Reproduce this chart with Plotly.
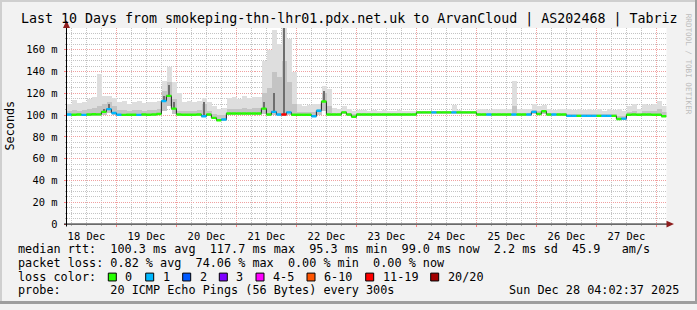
import plotly.graph_objects as go
import pandas as pd

# ---------------- data ----------------
bin_starts = pd.date_range("2025-12-18 04:00:00", periods=120, freq="2h")
t_start = "2025-12-18 04:02:37"
t_end = "2025-12-28 04:02:37"

median_ms = [
    100.5, 100.3, 100.6, 100.2, 100.5, 100.8, 100.7, 103.0, 105.5, 102.0,
    100.3, 100.2, 100.4, 100.3, 100.2, 100.5, 100.4, 100.6, 101.0, 113.0,
    117.7, 106.0, 100.5, 100.3, 100.3, 100.4, 100.5, 99.0, 100.5, 97.5,
    95.3, 96.0, 101.5, 101.5, 101.5, 101.5, 101.5, 101.5, 101.5, 106.0,
    100.5, 103.0, 100.5, 100.5, 102.5, 100.3, 100.3, 100.3, 100.3, 99.0,
    104.0, 112.5, 100.5, 100.5, 100.5, 102.5, 100.5, 98.5, 100.5, 100.5,
    100.5, 100.5, 100.5, 100.5, 100.5, 100.5, 100.5, 100.5, 100.5, 100.5,
    102.5, 102.5, 102.5, 102.5, 102.5, 102.5, 102.5, 102.5, 102.5, 102.5,
    102.5, 102.5, 100.5, 100.5, 100.5, 100.5, 100.5, 100.5, 100.5, 100.5,
    100.5, 100.5, 100.5, 103.0, 101.0, 103.5, 100.5, 100.5, 100.5, 100.5,
    99.3, 99.3, 99.3, 99.3, 99.3, 99.3, 99.3, 99.3, 99.3, 99.3,
    96.5, 96.8, 100.3, 100.5, 100.3, 100.5, 100.5, 100.3, 100.4, 99.0,
]

loss_count = [
    1, 0, 0, 1, 0, 0, 0, 0, 1, 1,
    1, 0, 0, 0, 1, 0, 0, 0, 0, 1,
    0, 0, 0, 0, 0, 0, 0, 1, 0, 0,
    0, 1, 0, 0, 0, 0, 0, 0, 0, 0,
    0, 1, 1, 12, 1, 0, 0, 0, 0, 1,
    1, 0, 0, 0, 0, 0, 0, 0, 0, 0,
    0, 0, 0, 0, 0, 0, 0, 0, 0, 0,
    0, 0, 0, 1, 0, 0, 0, 1, 0, 0,
    0, 0, 0, 0, 1, 0, 0, 0, 0, 1,
    0, 0, 1, 1, 0, 0, 0, 1, 0, 0,
    1, 1, 0, 1, 1, 1, 0, 1, 1, 0,
    0, 1, 0, 0, 0, 0, 0, 0, 0, 0,
]

smoke_lo = [
    99.0, 99.0, 99.2, 99.0, 99.3, 99.5, 99.5, 100.5, 102.0, 100.0,
    99.3, 99.2, 99.4, 99.3, 99.2, 99.5, 99.4, 99.6, 99.8, 104.0,
    108.0, 101.0, 99.5, 99.3, 99.3, 99.4, 99.5, 98.0, 99.5, 96.5,
    94.5, 95.0, 100.5, 100.5, 100.5, 100.5, 100.5, 100.5, 100.5, 101.0,
    99.5, 100.0, 99.5, 99.5, 100.0, 99.3, 99.3, 99.3, 99.3, 98.0,
    100.0, 104.0, 99.5, 99.5, 99.5, 101.5, 99.5, 97.5, 99.5, 99.5,
    99.5, 99.5, 99.5, 99.5, 99.5, 99.5, 99.5, 99.5, 99.5, 99.5,
    101.5, 101.5, 101.5, 101.5, 101.5, 101.5, 101.5, 101.5, 101.5, 101.5,
    101.5, 101.5, 99.5, 99.5, 99.5, 99.5, 99.5, 99.5, 99.5, 99.5,
    99.5, 99.5, 99.5, 101.0, 100.0, 101.5, 99.5, 99.5, 99.5, 99.5,
    98.3, 98.3, 98.3, 98.3, 98.3, 98.3, 98.3, 98.3, 98.3, 98.3,
    95.5, 95.8, 99.3, 99.5, 99.3, 99.5, 99.5, 99.3, 99.4, 98.0,
]

smoke_mid = [
    104, 105, 104, 105, 106, 107, 108, 110, 112, 108,
    105, 105, 104, 105, 105, 104, 105, 105, 106, 122,
    130, 115, 104, 104, 104, 104, 105, 110, 104, 101,
    100, 100, 106, 106, 106, 107, 106, 107, 107, 120,
    125, 140, 135, 150, 130, 110, 103, 103, 103, 103,
    106, 120, 108, 102, 102, 104, 102, 101, 102, 102,
    102, 102, 102, 102, 102, 102, 102, 102, 102, 102,
    104, 104, 104, 104, 104, 104, 104, 104, 104, 104,
    104, 104, 102, 102, 102, 102, 102, 102, 102, 108,
    102, 102, 102, 105, 104, 105, 102, 102, 102, 102,
    101, 101, 101, 101, 101, 101, 101, 101, 101, 101,
    99, 99, 103, 104, 102, 104, 104, 104, 106, 103,
]

smoke_hi = [
    110, 114, 111, 112, 115, 117, 138, 118, 118, 116,
    112, 113, 110, 112, 113, 111, 112, 112, 113, 131,
    144, 130, 120, 112, 113, 112, 113, 116, 112, 108,
    106, 107, 116, 117, 115, 118, 116, 117, 117, 150,
    160, 178, 165, 180, 170, 140, 110, 108, 109, 110,
    110, 127, 124, 107, 106, 108, 106, 104, 105, 105,
    104, 105, 104, 105, 104, 104, 105, 104, 104, 104,
    104, 104, 104, 104, 104, 104, 104, 109, 105, 104,
    104, 104, 106, 106, 105, 106, 106, 106, 106, 131,
    106, 106, 106, 110, 108, 109, 106, 105, 106, 106,
    106, 105, 106, 105, 106, 105, 106, 104, 106, 105,
    106, 104, 108, 110, 106, 110, 109, 110, 113, 108,
]

smoke_dark = [None] * 120
for _i, _v in [(7, 106), (8, 110), (19, 118), (20, 128), (21, 112), (27, 112),
               (39, 112), (41, 120), (43, 180), (51, 122)]:
    smoke_dark[_i] = _v

y_tick_vals = [0, 20, 40, 60, 80, 100, 120, 140, 160]
y_tick_text = ["0", "20 m", "40 m", "60 m", "80 m", "100 m", "120 m", "140 m", "160 m"]
day_midnights = pd.date_range("2025-12-19", "2025-12-28", freq="D")
day_noons = pd.date_range("2025-12-18 12:00", "2025-12-27 12:00", freq="D")
day_labels = [d.strftime("%d Dec") for d in day_noons]

loss_labels = ["0", "1", "2", "3", "4-5", "6-10", "11-19", "20/20"]
loss_upper = [0, 1, 2, 3, 5, 10, 19, 20]
loss_colors = ["#26ff00", "#00b8ff", "#0059ff", "#7e00ff", "#ff00ff", "#ff5500", "#ff0000", "#a10000"]

title_text = "Last 10 Days from smokeping-thn-lhr01.pdx.net.uk to ArvanCloud | AS202468 | Tabriz"
legend_line1 = "median rtt:  100.3 ms avg  117.7 ms max  95.3 ms min  99.0 ms now  2.2 ms sd  45.9   am/s"
legend_line2 = "packet loss: 0.82 % avg  74.06 % max  0.00 % min  0.00 % now"
legend_line3 = "loss color:"
legend_line4 = "probe:       20 ICMP Echo Pings (56 Bytes) every 300s"
stamp_text = "Sun Dec 28 04:02:37 2025"

# ---------------- geometry ----------------
W, H = 697, 310
PX0, PX1 = 66.5, 666.5
PY0, PY1 = 28.5, 228.5
MONO = "DejaVu Sans Mono"


def fx(x):
    return x / W


def fy(y):
    return 1 - y / H


BIN = pd.Timedelta(hours=2)
BIN_MS = 2 * 3600 * 1000
centers = bin_starts + BIN / 2


def loss_color(c):
    for up, col in zip(loss_upper, loss_colors):
        if c <= up:
            return col
    return loss_colors[-1]


fig = go.Figure()

# smoke layers
fig.add_trace(go.Bar(x=centers, base=smoke_lo, y=[h - l for h, l in zip(smoke_hi, smoke_lo)],
                     width=BIN_MS, marker=dict(color="#dedede", line=dict(width=0)),
                     hoverinfo="skip", showlegend=False))
fig.add_trace(go.Bar(x=centers, base=smoke_lo, y=[m - l for m, l in zip(smoke_mid, smoke_lo)],
                     width=BIN_MS, marker=dict(color="#c4c4c4", line=dict(width=0)),
                     hoverinfo="skip", showlegend=False))
dk_x = [c for c, d in zip(centers, smoke_dark) if d is not None]
dk_b = [m for m, d in zip(median_ms, smoke_dark) if d is not None]
dk_y = [d - m for m, d in zip(median_ms, smoke_dark) if d is not None]
fig.add_trace(go.Bar(x=dk_x, base=dk_b, y=dk_y, width=BIN_MS / 2.5,
                     marker=dict(color="#6e6e6e", line=dict(width=0)),
                     hoverinfo="skip", showlegend=False))

# median step line (dark vertical connectors)
step_x = list(bin_starts) + [bin_starts[-1] + BIN]
step_y = list(median_ms) + [median_ms[-1]]
fig.add_trace(go.Scatter(x=step_x, y=step_y, mode="lines", line=dict(color="#202020", width=1, shape="hv"),
                         hoverinfo="skip", showlegend=False))

# median coloured by loss: horizontal segments per bin
seg_colors = [loss_color(c) for c in loss_count]
for col in loss_colors:
    xs, ys = [], []
    for s, m, c in zip(bin_starts, median_ms, seg_colors):
        if c == col:
            xs += [s, s + BIN, None]
            ys += [m, m, None]
    if xs:
        fig.add_trace(go.Scatter(x=xs, y=ys, mode="lines", line=dict(color=col, width=2.4),
                                 connectgaps=False, hoverinfo="skip", showlegend=False))

# dummy trace for the day-label axis
fig.add_trace(go.Scatter(x=[t_start, t_end], y=[None, None], xaxis="x2", mode="lines", showlegend=False))

fig.update_layout(
    width=W, height=H, autosize=False,
    margin=dict(l=0, r=0, t=0, b=0),
    paper_bgcolor="#f2f2f2", plot_bgcolor="#ffffff",
    barmode="overlay", bargap=0, showlegend=False,
    font=dict(family=MONO, color="#000000", size=11),
    xaxis=dict(
        type="date", range=[t_start, t_end], domain=[fx(PX0), fx(PX1)],
        tickmode="array", tickvals=list(day_midnights), showticklabels=False,
        showgrid=True, gridcolor="#f0a0a0", griddash="1px,1px", gridwidth=1,
        ticks="outside", ticklen=2, tickcolor="#ff8080",
        minor=dict(dtick=6 * 3600 * 1000, tick0="2025-12-18 00:00", showgrid=True,
                   gridcolor="#c4c4c4", griddash="1px,1px", ticks="outside", ticklen=1, tickcolor="#b0b0b0"),
        showline=False, zeroline=False, fixedrange=True,
    ),
    xaxis2=dict(
        type="date", range=[t_start, t_end], domain=[fx(PX0), fx(PX1)],
        overlaying="x", anchor="y", side="bottom",
        tickmode="array", tickvals=list(day_noons), ticktext=day_labels,
        showgrid=False, ticks="", showline=False, zeroline=False,
        tickfont=dict(family=MONO, size=10.4, color="#000000"),
        ticklabelstandoff=5,
    ),
    yaxis=dict(
        range=[0, 180], domain=[fy(PY1), fy(PY0)],
        tickmode="array", tickvals=y_tick_vals, ticktext=y_tick_text,
        showgrid=True, gridcolor="#f0a0a0", griddash="1px,1px", gridwidth=1,
        ticks="outside", ticklen=2, tickcolor="#ff8080",
        minor=dict(dtick=5, showgrid=True, gridcolor="#c4c4c4", griddash="1px,1px",
                   ticks="outside", ticklen=1, tickcolor="#b0b0b0"),
        tickfont=dict(family=MONO, size=10.4, color="#000000"),
        ticklabelstandoff=4,
        showline=False, zeroline=False, fixedrange=True,
    ),
)

shapes = []
# outer frame shading
shapes.append(dict(type="rect", xref="paper", yref="paper", x0=0, x1=1, y0=fy(2), y1=1,
                   fillcolor="#cfcfcf", line=dict(width=0), layer="below"))
shapes.append(dict(type="rect", xref="paper", yref="paper", x0=0, x1=fx(2), y0=0, y1=1,
                   fillcolor="#cfcfcf", line=dict(width=0), layer="below"))
shapes.append(dict(type="rect", xref="paper", yref="paper", x0=0, x1=1, y0=0, y1=fy(307),
                   fillcolor="#9e9e9e", line=dict(width=0), layer="below"))
shapes.append(dict(type="rect", xref="paper", yref="paper", x0=fx(695), x1=1, y0=0, y1=1,
                   fillcolor="#9e9e9e", line=dict(width=0), layer="below"))
# axis lines
shapes.append(dict(type="line", xref="paper", yref="paper", x0=fx(64), x1=fx(668), y0=fy(228.5), y1=fy(228.5),
                   line=dict(color="#000000", width=1)))
shapes.append(dict(type="line", xref="paper", yref="paper", x0=fx(66.5), x1=fx(66.5), y0=fy(231), y1=fy(24),
                   line=dict(color="#000000", width=1)))


def tri(points):
    return "M " + " L ".join(f"{fx(x):.5f},{fy(y):.5f}" for x, y in points) + " Z"


shapes.append(dict(type="path", xref="paper", yref="paper", path=tri([(666.5, 225), (674, 228.5), (666.5, 232)]),
                   fillcolor="#8e1e1e", line=dict(width=0)))
shapes.append(dict(type="path", xref="paper", yref="paper", path=tri([(63, 28.5), (66.5, 21), (70, 28.5)]),
                   fillcolor="#8e1e1e", line=dict(width=0)))

# loss colour legend boxes
box_x = [108.3, 145.7, 182.7, 219.3, 256.0, 307.0, 365.7, 430.7]
annotations = []
for bx, lab, col in zip(box_x, loss_labels, loss_colors):
    shapes.append(dict(type="rect", xref="paper", yref="paper", x0=fx(bx), x1=fx(bx + 8),
                       y0=fy(286.5), y1=fy(278.5), fillcolor=col, line=dict(color="#000000", width=1)))
    annotations.append(dict(text=lab, x=fx(bx + 15), y=fy(282.3), xref="paper", yref="paper",
                            xanchor="left", yanchor="middle", showarrow=False,
                            font=dict(family=MONO, size=11.8, color="#000000")))


def label(text, x, y, size=11.8, xanchor="left", color="#000000", angle=0):
    annotations.append(dict(text=text, x=fx(x), y=fy(y), xref="paper", yref="paper",
                            xanchor=xanchor, yanchor="middle", showarrow=False, textangle=angle,
                            font=dict(family=MONO, size=size, color=color)))


label(title_text, 348.5, 19.5, size=13.3, xanchor="center")
label(legend_line1, 15.5, 254.3)
label(legend_line2, 15.5, 268.3)
label(legend_line3, 15.5, 282.3)
label(legend_line4, 15.5, 296.2)
label(stamp_text, 680.5, 296.2, xanchor="right")
label("Seconds", 10, 128, xanchor="center", angle=-90)
label("RRDTOOL / TOBI OETIKER", 688, 65, size=7.6, xanchor="center", color="#bdbdbd", angle=90)

fig.update_layout(shapes=shapes, annotations=annotations)
fig.write_html("out.html")
